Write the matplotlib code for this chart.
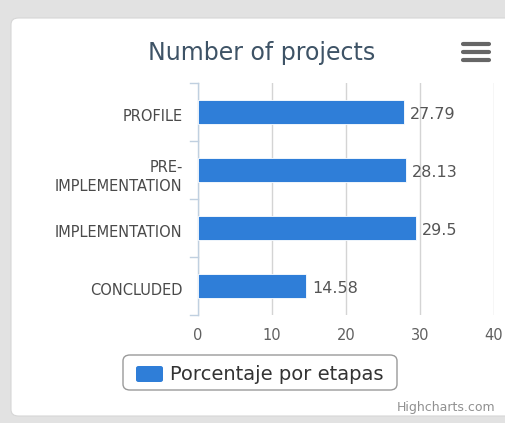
import matplotlib.pyplot as plt
import matplotlib.transforms as mtransforms
from matplotlib.patches import FancyBboxPatch
from matplotlib.lines import Line2D

categories = ["PROFILE", "PRE-\nIMPLEMENTATION", "IMPLEMENTATION", "CONCLUDED"]
values = [27.79, 28.13, 29.5, 14.58]
value_labels = ["27.79", "28.13", "29.5", "14.58"]
x_ticks = [0, 10, 20, 30, 40]

W, H = 506, 423
BAR = "#2f7ed8"
TXT = "#4a4a4a"


def fx(px):
    return px / W


def fy(py):
    return 1 - py / H


fig = plt.figure(figsize=(W / 100, H / 100), dpi=100)
fig.patch.set_facecolor("#e2e2e2")

# white card behind the chart
card = FancyBboxPatch((fx(11), fy(416)), fx(520) - fx(11), fy(18) - fy(416),
                      boxstyle="round,pad=0,rounding_size=0.015",
                      transform=fig.transFigure, facecolor="white",
                      edgecolor="#d6d6d6", linewidth=0.8, zorder=-5)
fig.patches.append(card)

ax = fig.add_axes([fx(198), fy(315), fx(494) - fx(198), fy(83) - fy(315)])
ax.set_zorder(3)
ax.set_facecolor("none")

pos = list(range(len(categories)))
bars = ax.barh(pos, values, height=0.42, color=BAR, edgecolor="white",
               linewidth=0.6, zorder=3)
ax.set_ylim(len(categories) - 0.5, -0.5)
ax.set_xlim(0, 40)

for b, lab in zip(bars, value_labels):
    ax.text(b.get_width() + 0.8, b.get_y() + b.get_height() / 2 + 0.05, lab,
            va="center", ha="left", fontsize=11.5, color="#555555")

ax.set_xticks(x_ticks)
ax.set_xticklabels([str(t) for t in x_ticks], fontsize=10.5, color="#606060")
ax.tick_params(axis="x", length=0, pad=9)
ax.xaxis.grid(True, color="#d4d4d4", linewidth=1, zorder=0)

ax.set_yticks(pos)
ax.set_yticklabels(categories, fontsize=10.5, color=TXT, linespacing=1.35)
ax.tick_params(axis="y", length=0, pad=11)
shift = mtransforms.ScaledTranslation(0, -3 / 100, fig.dpi_scale_trans)
for t in ax.get_yticklabels():
    t.set_transform(t.get_transform() + shift)
for b in [-0.5, 0.5, 1.5, 2.5, 3.5]:
    ax.plot([-1.1, 0], [b, b], color="#c0d0e0", linewidth=1, clip_on=False,
            zorder=4)

for s in ["top", "right", "bottom"]:
    ax.spines[s].set_visible(False)
ax.spines["left"].set_color("#c0d0e0")
ax.spines["left"].set_linewidth(1)

fig.text(fx(262), fy(60), "Number of projects", ha="center", va="baseline",
         fontsize=17, color="#3e5366")

# export menu icon
for yy in [44, 52, 60]:
    fig.add_artist(Line2D([fx(463), fx(489)], [fy(yy), fy(yy)],
                          color="#666666", linewidth=3, solid_capstyle="round"))

# legend box
leg = FancyBboxPatch((fx(123), fy(390)), fx(397) - fx(123), fy(355) - fy(390),
                     boxstyle="round,pad=0,rounding_size=0.014",
                     transform=fig.transFigure, facecolor="white",
                     edgecolor="#9a9a9a", linewidth=1)
fig.patches.append(leg)
sym = FancyBboxPatch((fx(136), fy(382)), fx(163) - fx(136), fy(366) - fy(382),
                     boxstyle="round,pad=0,rounding_size=0.005",
                     transform=fig.transFigure, facecolor=BAR, edgecolor="none")
fig.patches.append(sym)
fig.text(fx(170), fy(374), "Porcentaje por etapas", ha="left", va="center",
         fontsize=14, color="#333333")

fig.text(fx(495), fy(407), "Highcharts.com", ha="right", va="center",
         fontsize=9, color="#909090")

fig.savefig("out.png", dpi=100, facecolor=fig.get_facecolor())
